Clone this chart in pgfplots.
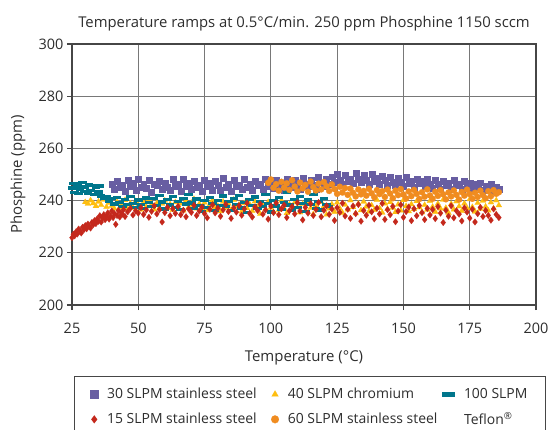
\documentclass[border=0pt]{standalone}
\usepackage{pgfplots}
\pgfplotsset{compat=1.18}
\usepackage{fontspec}
\setmainfont{Open Sans}
\definecolor{cpurple}{RGB}{104,94,162}
\definecolor{cred}{RGB}{196,40,28}
\definecolor{cyellow}{RGB}{254,190,16}
\definecolor{corange}{RGB}{240,140,32}
\definecolor{cteal}{RGB}{0,118,140}
\definecolor{cgrid}{RGB}{120,120,120}
\definecolor{caxis}{RGB}{70,70,70}
\definecolor{ctext}{RGB}{45,45,45}
\pgfdeclareplotmark{hbar}{%
  \pgfpathrectangle{\pgfpoint{-1.7\pgfplotmarksize}{-0.65\pgfplotmarksize}}{\pgfpoint{3.4\pgfplotmarksize}{1.3\pgfplotmarksize}}%
  \pgfusepathqfill}
\begin{document}
\begin{tikzpicture}
\begin{axis}[
  scale only axis, width=464bp, height=261bp,
  xmin=25, xmax=200, ymin=200, ymax=300,
  xtick={25,50,...,200}, ytick={200,220,...,300},
  grid=major, grid style={cgrid, line width=1.1pt},
  axis line style={caxis, line width=1.1pt},
  tick align=outside, major tick length=5bp, tick style={caxis, line width=1.1pt},
  xtick pos=bottom, ytick pos=left,
  /pgf/number format/assume math mode=true,
  ticklabel style={font=\fontsize{14.5}{16}\selectfont, text=ctext},
  xticklabel style={yshift=-10bp},
  xlabel={Temperature (°C)}, ylabel={Phosphine (ppm)},
  label style={font=\fontsize{15}{17}\selectfont, text=ctext},
  xlabel style={at={(axis description cs:0.5,-0.203)}, anchor=center},
  ylabel style={at={(axis description cs:-0.1164,0.5)}, anchor=center},
  title={Temperature ramps at 0.5°C/min. 250 ppm Phosphine 1150 sccm},
  title style={font=\fontsize{14.9}{17}\selectfont, text=ctext, at={(axis description cs:0.5,1)}, anchor=center, yshift=14bp},
  legend columns=3,
  legend cell align=left,
  legend image post style={mark size=3.9pt},
  legend style={at={(0,-0.272)}, anchor=north west, xshift=2bp,
    draw=caxis, line width=0.8pt, font=\fontsize{14}{16}\selectfont, text=ctext,
    inner xsep=16bp, inner ysep=10bp, row sep=8bp,
    /tikz/every odd column/.append style={column sep=7bp}},
  only marks,
]
\coordinate (bl) at (rel axis cs:0,0);
\coordinate (tr) at (rel axis cs:1,1);
% 30 SLPM stainless steel
\addplot[mark=square*, mark size=3pt, mark options={fill=cpurple, draw=cpurple, line width=0.2pt}] table {
40 246.3
41 244.4
42 247.6
43 245.2
44 246.0
45 243.5
46 247.9
47 245.5
48 246.6
49 244.0
50 248.3
51 245.1
52 246.2
53 244.7
54 247.8
55 243.4
56 246.5
57 245.8
58 247.5
59 244.3
60 246.9
61 245.3
62 243.9
63 248.1
64 245.7
65 246.4
66 243.8
67 248.4
68 245.4
69 246.7
70 244.5
71 247.6
72 245.0
73 246.1
74 243.6
75 247.9
76 245.6
77 246.8
78 244.1
79 247.4
80 245.9
81 244.2
82 248.6
83 245.2
84 246.3
85 243.7
86 247.8
87 245.7
88 246.0
89 244.3
90 248.1
91 245.3
92 246.5
93 243.9
94 247.5
95 245.8
96 246.4
97 244.4
98 248.3
99 245.5
100 246.8
101 244.6
102 247.7
103 245.6
104 246.2
105 244.1
106 248.2
107 246.0
108 245.1
109 247.9
110 246.6
111 244.5
112 248.5
113 246.3
114 245.4
115 247.8
116 246.0
117 244.4
118 248.9
119 246.9
120 245.5
121 248.1
122 246.4
123 249.2
124 247.1
125 250.0
126 247.8
127 246.2
128 249.6
129 247.6
130 248.4
131 246.6
132 250.4
133 248.1
134 247.0
135 249.8
136 248.0
137 246.5
138 250.1
139 247.5
140 248.6
141 246.3
142 249.5
143 247.9
144 246.1
145 249.1
146 247.2
147 245.8
148 248.7
149 247.0
150 245.6
151 248.9
152 246.8
153 247.6
154 245.2
155 248.4
156 246.7
157 247.3
158 245.5
159 248.2
160 246.2
161 244.8
162 247.8
163 246.3
164 244.6
165 247.6
166 245.9
167 246.6
168 244.4
169 247.9
170 245.8
171 246.4
172 244.3
173 247.4
174 245.5
175 246.8
176 244.0
177 246.5
178 245.0
179 246.9
180 243.9
181 245.7
182 244.3
183 246.4
184 243.6
185 245.3
186 244.5
};
\addlegendentry{\makebox[162bp][l]{30 SLPM stainless steel}}
% 40 SLPM chromium
\addplot[mark=triangle*, mark size=3.4pt, mark options={fill=cyellow, draw=cyellow, line width=0.2pt}] table {
30 239.4
31 238.8
32 240.1
33 239.0
34 237.9
35 239.6
36 238.3
37 240.4
38 237.6
39 239.1
40 238.0
41 236.9
42 239.5
43 237.4
44 238.7
45 240.2
46 236.8
47 238.9
48 237.2
49 239.8
50 238.1
51 236.5
52 239.3
53 237.7
54 240.5
55 238.4
56 236.6
57 239.0
58 237.3
59 238.8
60 240.0
61 237.1
62 238.6
63 236.4
64 239.4
65 237.8
66 238.9
67 236.2
68 239.9
69 237.5
70 238.3
71 240.6
72 236.9
73 238.7
74 237.0
75 239.2
76 236.3
77 238.5
78 240.1
79 237.4
80 238.0
81 235.9
82 239.6
83 237.2
84 238.8
85 236.5
86 240.3
87 237.7
88 238.4
89 235.8
90 239.0
91 237.1
92 238.6
93 236.0
94 239.7
95 237.6
96 234.9
97 238.2
98 236.7
99 239.4
100 237.3
101 235.6
102 238.9
103 236.4
104 240.0
105 237.0
106 235.2
107 238.5
108 236.8
109 239.3
110 237.4
111 235.5
112 238.7
113 236.1
114 239.8
115 237.2
116 234.8
117 238.1
118 236.5
119 239.5
120 237.8
121 234.6
122 236.9
123 238.6
124 235.7
125 239.2
126 237.0
127 235.3
128 238.4
129 236.6
130 240.1
131 237.5
132 235.1
133 238.8
134 236.3
135 239.6
136 237.7
137 235.8
138 238.2
139 236.4
140 240.3
141 237.1
142 235.4
143 238.9
144 236.8
145 239.4
146 237.3
147 235.6
148 238.5
149 236.2
150 240.2
151 237.9
152 235.9
153 238.6
154 236.7
155 239.8
156 237.4
157 235.5
158 238.3
159 236.5
160 239.9
161 237.6
162 235.7
163 238.8
164 236.9
165 240.4
166 237.2
167 235.3
168 238.7
169 236.6
170 239.7
171 237.8
172 236.0
173 238.9
174 237.1
175 240.5
176 237.5
177 235.8
178 239.1
179 236.8
180 240.0
181 237.7
182 236.2
183 239.3
184 237.0
185 240.1
186 238.2
};
\addlegendentry{\makebox[150bp][l]{40 SLPM chromium}}
% 100 SLPM Teflon
\addplot[mark=hbar, mark size=2.5pt, mark options={fill=cteal, draw=none}] table {
25 244.8
25.5 246.6
26 243.1
27 245.9
27.5 242.6
28 244.4
29 246.8
29.5 243.5
30 245.2
31 242.9
31.5 246.1
32 244.0
33 245.7
33.5 242.4
34 244.9
35 243.3
35.5 245.6
36 241.8
37 240.8
38 241.7
39 239.6
40 240.9
41 238.7
42 241.3
43 239.2
44 237.8
45 240.5
46 238.4
47 241.6
48 239.0
49 237.3
50 240.2
51 238.6
52 236.9
53 241.0
54 239.4
55 237.6
56 240.7
57 238.1
58 242.0
59 239.5
60 236.8
61 240.4
62 238.3
63 241.5
64 237.4
65 239.8
66 236.5
67 240.9
68 238.7
69 242.2
70 239.1
71 237.0
72 240.6
73 238.2
74 235.9
75 239.9
76 237.5
77 241.2
78 238.8
79 236.3
80 240.1
81 238.0
82 241.8
83 237.7
84 239.6
85 236.1
86 240.8
87 238.5
88 242.1
89 237.2
90 239.3
91 235.4
92 240.3
93 238.1
94 241.4
95 236.9
96 239.7
97 237.8
98 242.3
99 238.9
100 235.6
101 240.0
102 237.9
103 241.1
104 236.6
105 239.4
106 243.0
107 238.3
108 236.2
109 240.5
110 237.4
111 241.7
112 239.0
113 235.8
114 240.2
115 238.4
116 242.4
117 237.1
118 239.6
119 236.4
120 240.7
121 238.6
122 237.7
};
\addlegendentry{100 SLPM}
% 15 SLPM stainless steel
\addplot[mark=diamond*, mark size=3.3pt, mark options={fill=cred, draw=cred, line width=0.2pt}] table {
25 225.8
25.5 227.1
26 226.5
26.5 228.0
27 227.2
27.5 229.1
28 228.3
28.5 227.6
29 229.8
29.5 228.9
30 230.4
30.5 229.2
31 231.0
31.5 230.1
32 229.5
32.5 231.6
33 230.8
33.5 232.3
34 231.2
34.5 233.0
35 232.1
35.5 234.2
36 231.8
36.5 233.4
37 234.6
37.5 232.7
38 233.9
38.5 235.3
39 232.9
39.5 234.1
40 236.0
40.5 233.5
41 235.0
41.5 230.9
42 234.3
42.5 236.2
43 233.7
43.5 235.4
44 234.8
44.5 236.6
45 233.9
46 235.7
47 237.0
48 234.5
49 236.1
50 235.2
51 237.3
52 234.7
53 236.4
54 233.6
55 235.9
56 238.0
57 234.9
58 236.6
59 231.8
60 235.4
61 237.4
62 234.2
63 236.9
64 235.1
65 237.8
66 234.6
67 236.3
68 233.8
69 236.8
70 235.5
71 238.2
72 234.3
73 236.0
74 237.5
75 235.0
76 233.4
77 236.7
78 238.4
79 235.3
80 237.1
81 234.0
82 236.5
83 238.6
84 235.8
85 233.2
86 237.2
87 235.6
88 238.1
89 234.4
90 236.8
91 239.0
92 235.1
93 233.7
94 237.6
95 236.2
96 238.7
97 234.8
98 236.4
99 232.9
100 237.9
101 235.4
102 239.1
103 234.6
104 236.9
105 238.3
106 233.5
107 236.1
108 237.7
109 234.9
110 239.2
111 236.0
112 232.6
113 237.4
114 235.2
115 238.8
116 234.3
117 236.6
118 239.3
119 233.8
120 236.3
121 238.0
122 234.7
123 236.8
124 232.4
125 237.3
126 235.5
127 239.0
128 234.1
129 236.7
130 233.2
131 237.9
132 235.0
133 238.5
134 232.1
135 236.2
136 234.4
137 238.2
138 235.7
139 233.0
140 237.1
141 234.9
142 238.9
143 232.8
144 236.5
145 234.6
146 237.8
147 231.9
148 236.0
149 238.4
150 233.6
151 235.8
152 237.5
153 232.3
154 236.9
155 234.2
156 238.1
157 235.4
158 232.7
159 237.0
160 234.5
161 236.6
162 233.1
163 237.7
164 235.2
165 231.6
166 236.3
167 234.0
168 238.0
169 233.4
170 236.1
171 234.8
172 232.2
173 237.2
174 235.6
175 233.3
176 236.7
177 231.8
178 235.0
179 237.4
180 233.9
181 236.2
182 234.3
183 232.5
184 236.8
185 234.7
186 233.5
};
\addlegendentry{\makebox[162bp][l]{15 SLPM stainless steel}}
% 60 SLPM stainless steel
\addplot[mark=*, mark size=3.1pt, mark options={fill=corange, draw=corange, line width=0.2pt}] table {
99 246.8
100 248.1
101 244.9
102 246.3
103 243.8
104 247.2
105 245.0
106 246.6
107 244.1
108 247.8
109 245.4
110 243.5
111 246.9
112 244.7
113 246.0
114 243.4
115 247.3
116 245.2
117 243.9
118 246.5
119 244.3
120 247.1
121 245.5
122 243.7
123 246.2
124 244.4
125 242.6
126 245.3
127 243.1
128 244.8
129 242.2
130 244.6
131 243.0
132 241.6
133 244.3
134 242.4
135 243.7
136 241.9
137 244.5
138 242.8
139 241.3
140 244.0
141 242.5
142 243.6
143 241.4
144 244.2
145 242.7
146 240.9
147 243.8
148 242.1
149 244.4
150 242.3
151 240.8
152 243.5
153 241.7
154 244.1
155 242.6
156 240.6
157 243.2
158 241.5
159 244.3
160 242.0
161 240.7
162 243.4
163 241.8
164 244.0
165 242.4
166 240.5
167 243.1
168 241.6
169 243.9
170 242.2
171 240.4
172 243.3
173 241.9
174 244.2
175 242.5
176 240.7
177 243.0
178 241.4
179 243.8
180 242.1
181 240.9
182 243.6
183 241.7
184 244.0
185 242.6
186 243.2
};
\addlegendentry{\makebox[150bp][l]{60 SLPM stainless steel}}
\addlegendimage{empty legend}
\addlegendentry{Teflon\textsuperscript{®}}
\end{axis}
\pgfresetboundingbox
\path[use as bounding box] ([xshift=-72bp,yshift=-125bp]bl) rectangle ([xshift=14bp,yshift=44bp]tr);
\end{tikzpicture}
\end{document}
